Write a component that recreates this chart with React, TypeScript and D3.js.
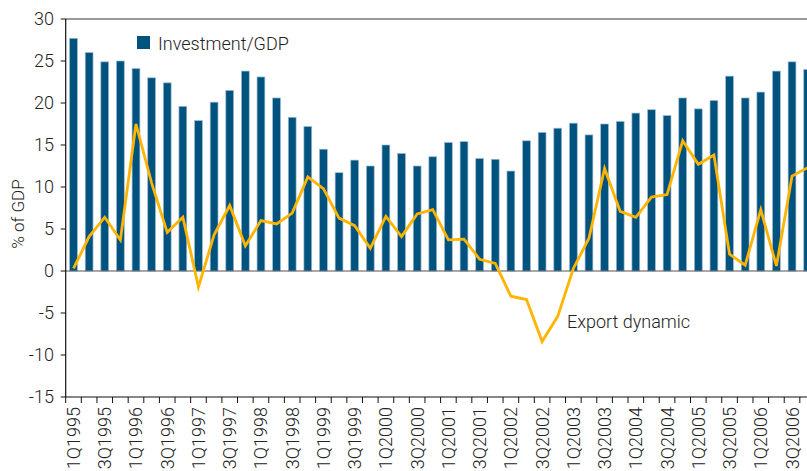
import React from "react";
import * as d3 from "d3";

const years = [1995, 1996, 1997, 1998, 1999, 2000, 2001, 2002, 2003, 2004, 2005, 2006];
const quarters = ["1Q", "2Q", "3Q", "4Q"];
const categories: string[] = years.flatMap((y) => quarters.map((q) => `${q}${y}`));

const investment = [
  27.7, 26.0, 24.9, 25.0,
  24.1, 23.0, 22.4, 19.6,
  17.9, 20.1, 21.5, 23.8,
  23.1, 20.6, 18.3, 17.2,
  14.5, 11.7, 13.2, 12.5,
  15.0, 14.0, 12.5, 13.6,
  15.3, 15.4, 13.4, 13.3,
  11.9, 15.5, 16.5, 17.0,
  17.6, 16.2, 17.5, 17.8,
  18.8, 19.2, 18.5, 20.6,
  19.3, 20.3, 23.2, 20.6,
  21.3, 23.8, 24.9, 24.0,
];

const exportDynamic = [
  0.3, 4.1, 6.4, 3.7,
  17.5, 10.5, 4.6, 6.4,
  -1.9, 4.3, 7.8, 3.0,
  6.0, 5.6, 6.9, 11.2,
  9.8, 6.3, 5.4, 2.7,
  6.5, 4.1, 6.8, 7.3,
  3.7, 3.8, 1.4, 0.9,
  -3.0, -3.4, -8.4, -5.4,
  0.3, 3.9, 12.2, 7.1,
  6.4, 8.8, 9.1, 15.5,
  12.7, 13.8, 2.0, 0.7,
  7.3, 0.6, 11.3, 12.3,
];

const yTicks = [-15, -10, -5, 0, 5, 10, 15, 20, 25, 30];

const W = 807;
const H = 471;
const left = 65.7;
const step = 15.62;
const top = 19;
const bottom = 397;

const BAR = "#00527f";
const LINE = "#ffb400";
const TEXT = "#222";
const FONT = "Roboto, 'Liberation Sans', sans-serif";

export default function App() {
  const x = d3
    .scaleBand<string>()
    .domain(categories)
    .range([left, left + categories.length * step])
    .paddingInner(0.5)
    .paddingOuter(0.25);
  const y = d3.scaleLinear().domain([-15, 30]).range([bottom, top]);

  const cx = (c: string) => (x(c) as number) + x.bandwidth() / 2;
  const line = d3
    .line<number>()
    .x((_, i) => cx(categories[i]))
    .y((d) => y(d));

  const boundaries = d3.range(categories.length + 1).map((i) => left + i * step);

  return (
    <svg
      width={W}
      height={H}
      style={{ position: "absolute", left: 0, top: 0, overflow: "hidden", background: "#fff" }}
      fontFamily={FONT}
    >
      {/* bars */}
      {investment.map((v, i) => (
        <rect
          key={i}
          x={x(categories[i])}
          y={y(v)}
          width={x.bandwidth()}
          height={y(0) - y(v)}
          fill={BAR}
          stroke="#9fbad0"
          strokeWidth={0.7}
        />
      ))}
      {/* zero line */}
      <line x1={left} x2={W} y1={y(0)} y2={y(0)} stroke="#555" strokeWidth={1.2} />
      {/* top border */}
      <line x1={left} x2={W} y1={top} y2={top} stroke="#777" strokeWidth={1.5} />
      {/* line */}
      <path d={line(exportDynamic) || ""} fill="none" stroke={LINE} strokeWidth={2.8} strokeLinejoin="miter" />
      {/* y axis */}
      <line x1={left} x2={left} y1={top} y2={bottom} stroke="#111" strokeWidth={1.2} />
      {yTicks.map((t) => (
        <g key={t}>
          <line x1={left - 5} x2={left} y1={y(t)} y2={y(t)} stroke="#111" strokeWidth={1} />
          <text x={54} y={y(t)} dy="0.36em" textAnchor="end" fontSize={18} fontWeight={300} fill={TEXT}>
            {t}
          </text>
        </g>
      ))}
      {/* x axis */}
      <line x1={left} x2={W} y1={bottom} y2={bottom} stroke="#111" strokeWidth={1.2} />
      {boundaries.map((b, i) => (
        <line key={i} x1={b} x2={b} y1={bottom} y2={bottom + 6} stroke="#111" strokeWidth={1} />
      ))}
      {categories.map((c, i) =>
        i % 2 === 0 ? (
          <text
            key={c}
            transform={`translate(${cx(c)},${bottom + 10}) rotate(-90)`}
            dy="0.36em"
            textAnchor="end"
            fontSize={18}
            fontWeight={300}
            fill={TEXT}
          >
            {c}
          </text>
        ) : null
      )}
      {/* y title */}
      <text
        transform={`translate(18,214) rotate(-90)`}
        dy="0.36em"
        textAnchor="middle"
        fontSize={17}
        fontWeight={300}
        fill={TEXT}
      >
        % of GDP
      </text>
      {/* legend */}
      <rect x={137} y={36} width={13} height={13} fill={BAR} />
      <text x={158} y={49.5} fontSize={18} fontWeight={300} fill={TEXT}>
        Investment/GDP
      </text>
      <text x={567} y={328} fontSize={18} fontWeight={300} fill={TEXT}>
        Export dynamic
      </text>
    </svg>
  );
}
